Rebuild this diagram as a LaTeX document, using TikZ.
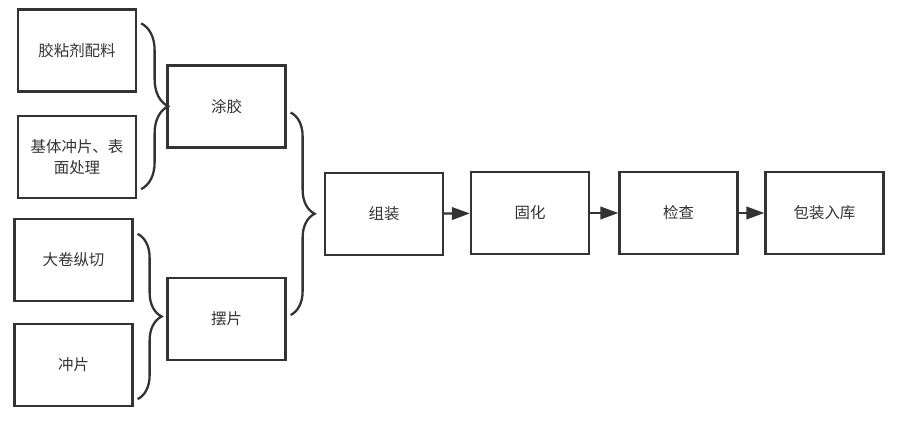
\documentclass[tikz,border=0pt]{standalone}
\usepackage{fontspec}
\newfontfamily\cjk{Noto Sans CJK SC}
\usetikzlibrary{arrows.meta,decorations.pathreplacing}
\definecolor{ink}{HTML}{333333}

\begin{document}
\begin{tikzpicture}
    [x=0.02cm,y=-0.02cm,line width=1.3pt,draw=ink,
     box/.style={rectangle,draw=ink,line width=1.3pt,minimum width=2.36cm,minimum height=1.64cm,
                 align=center,text=ink,font=\cjk\fontsize{8.8}{12}\selectfont},
     flow/.style={ink,line width=1.3pt,-{Triangle[length=0.36cm,width=0.25cm]}},
     curly/.style={ink,line width=1.3pt,decorate,decoration={brace,amplitude=#1}}]
    \useasboundingbox (0,0) rectangle (919,423);

    \node[box] (glue)  at (77,50.5)  {胶粘剂配料};
    \node[box] (base)  at (77,157)   {基体冲片、表\\面处理};
    \node[box] (slit)  at (73.5,260) {大卷纵切};
    \node[box] (punch) at (73.5,365) {冲片};
    \node[box] (coat)  at (226.5,106.5) {涂胶};
    \node[box] (stack) at (226.5,319)   {摆片};
    \node[box] (asm)   at (384,214)  {组装};
    \node[box] (cure)  at (530,213)  {固化};
    \node[box] (check) at (678.5,213) {检查};
    \node[box] (pack)  at (824.5,213) {包装入库};

    % braces
    \draw[curly=0.54cm] ([shift={(4,15)}]glue.north east) -- ([shift={(4,-10)}]base.south east);
    \draw[curly=0.48cm] ([shift={(4,16)}]slit.north east) -- ([shift={(4,-8)}]punch.south east);
    \draw[curly=0.48cm] ([shift={(4,6)}]coat.east) -- ([shift={(4,-4)}]stack.east);

    \draw[flow] (asm) -- (cure);
    \draw[flow] (cure) -- (check);
    \draw[flow] (check) -- (pack);

\end{tikzpicture}
\end{document}
